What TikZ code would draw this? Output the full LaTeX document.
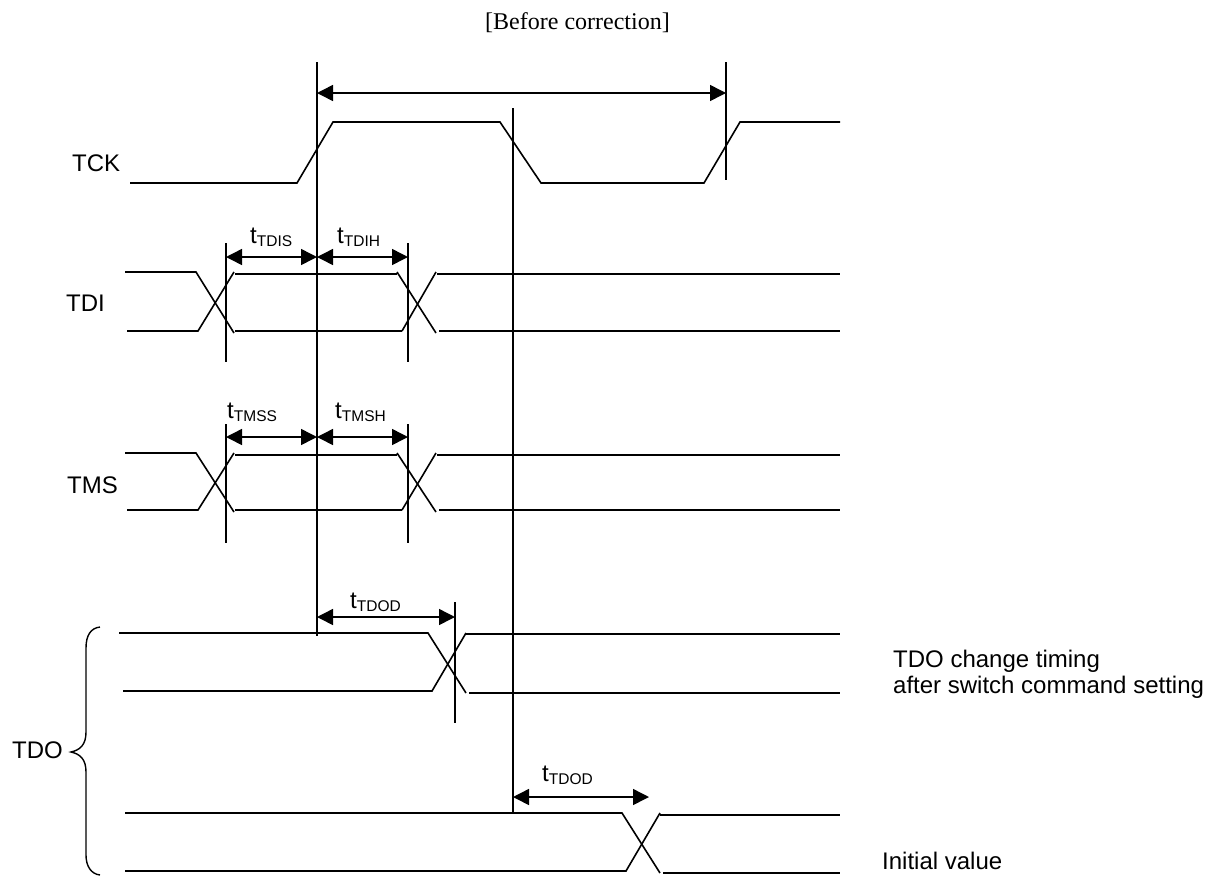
\documentclass[tikz,border=0pt]{standalone}
\usepackage{fontspec}
\setmainfont{Liberation Sans}
\newfontfamily\titlefont{Liberation Serif}
\usetikzlibrary{arrows.meta}
\tikzset{
 sig/.style={line width=1.6pt,line join=miter,black},
 tickline/.style={line width=1.5pt,black},
 dim/.style={line width=1.5pt,black,{Triangle[length=16pt,width=16pt]}-{Triangle[length=16pt,width=16pt]}},
 lab/.style={inner sep=0pt,anchor=base west,font=\fontsize{24}{28}\selectfont},
 tlab/.style={inner sep=0pt,anchor=base west,font=\fontsize{24}{28}\selectfont}
}
\newcommand{\tsub}[1]{t\raisebox{-3pt}{\fontsize{15.5}{16}\selectfont #1}}
\begin{document}
\begin{tikzpicture}[x=1pt,y=-1pt]
\useasboundingbox (0,0) rectangle (1215,876);
% title
\node[inner sep=0pt,anchor=base west,font=\titlefont\fontsize{24}{28}\selectfont] (title) at (485,29) {[Before correction]};
% signal names
\node[lab] (tck) at (72,171) {TCK};
\node[lab] (tdi) at (66,311) {TDI};
\node[lab] (tms) at (67,493) {TMS};
\node[lab] (tdo) at (12,758) {TDO};
\node[lab] (n1) at (893,667) {TDO change timing};
\node[lab] (n2) at (893,693) {after switch command setting};
\node[lab] (n3) at (882,869) {Initial value};
% TCK
\draw[sig] (130,183) -- (297,183) -- (333,122) -- (500,122) -- (541,183) -- (704,183) -- (740,122) -- (840,122);
% TDI
\draw[sig] (125,272) -- (196,272) -- (234,333);
\draw[sig] (127,331) -- (198,331) -- (234,272);
\draw[sig] (235,274) -- (397,274);
\draw[sig] (235,331) -- (402,331);
\draw[sig] (397,272) -- (436,333);
\draw[sig] (402,331) -- (436,272);
\draw[sig] (437,274) -- (840,274);
\draw[sig] (439,331) -- (840,331);
% TMS
\draw[sig] (125,453) -- (196,453) -- (234,512);
\draw[sig] (127,510) -- (198,510) -- (234,453);
\draw[sig] (235,455) -- (397,455);
\draw[sig] (235,510) -- (402,510);
\draw[sig] (397,453) -- (436,512);
\draw[sig] (402,510) -- (436,453);
\draw[sig] (437,455) -- (840,455);
\draw[sig] (439,510) -- (840,510);
% TDO 1
\draw[sig] (119,633) -- (428,633) -- (466,693);
\draw[sig] (123,691) -- (432,691) -- (466,633);
\draw[sig] (466,634) -- (840,634);
\draw[sig] (469,693) -- (840,693);
% TDO 2
\draw[sig] (125,813) -- (622,813) -- (660,873);
\draw[sig] (125,871) -- (626,871) -- (660,813);
\draw[sig] (660,815) -- (840,815);
\draw[sig] (663,873) -- (840,873);
% brace
\draw[line width=1.4pt] (100,627) .. controls (91,628) and (86,635) .. (86,648) -- (86,732) .. controls (86,745) and (80,750) .. (71,752) .. controls (80,754) and (86,759) .. (86,772) -- (86,855) .. controls (86,866) and (91,874) .. (100,875);
% timing verticals
\coordinate (a1) at (317,62); \coordinate (a2) at (317,636);
\coordinate (b1) at (513,108); \coordinate (b2) at (513,813);
\coordinate (c1) at (726,62); \coordinate (c2) at (726,180);
\coordinate (d1) at (226,243); \coordinate (d2) at (226,362);
\coordinate (e1) at (408,243); \coordinate (e2) at (408,362);
\coordinate (f1) at (226,424); \coordinate (f2) at (226,543);
\coordinate (g1) at (408,424); \coordinate (g2) at (408,543);
\coordinate (h1) at (455,602); \coordinate (h2) at (455,723);
\foreach \u/\v in {a1/a2,b1/b2,c1/c2,d1/d2,e1/e2,f1/f2,g1/g2,h1/h2}{\draw[tickline] (\u) -- (\v);}
% dimension arrows
\draw[dim] (a1 |- 0,93) -- (c1 |- 0,93);
\draw[dim] (d1 |- 0,257) -- (a1 |- 0,257);
\draw[dim] (a1 |- 0,257) -- (e1 |- 0,257);
\draw[dim] (f1 |- 0,437) -- (a1 |- 0,437);
\draw[dim] (a1 |- 0,437) -- (g1 |- 0,437);
\draw[dim] (a1 |- 0,617) -- (h1 |- 0,617);
\draw[dim] (b1 |- 0,797) -- (649,797);
% timing labels
\node[tlab] (l1) at (250,243) {\tsub{TDIS}};
\node[tlab] (l2) at (337,243) {\tsub{TDIH}};
\node[tlab] (l3) at (227,418) {\tsub{TMSS}};
\node[tlab] (l4) at (335,418) {\tsub{TMSH}};
\node[tlab] (l5) at (350,608) {\tsub{TDOD}};
\node[tlab] (l6) at (542,781) {\tsub{TDOD}};
\end{tikzpicture}
\end{document}
